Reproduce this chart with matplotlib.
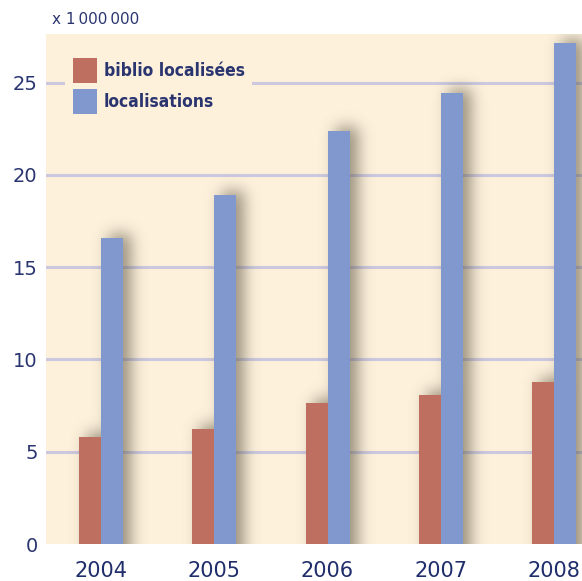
import matplotlib
matplotlib.use("Agg")
import numpy as np
import matplotlib.pyplot as plt
from matplotlib.patches import Patch

years = ["2004", "2005", "2006", "2007", "2008"]
biblio = [5.80, 6.23, 7.64, 8.07, 8.78]
localisations = [16.58, 18.90, 22.37, 24.43, 27.14]
yticks = [0, 5, 10, 15, 20, 25]
series_names = ["biblio localisées", "localisations"]

RED = "#BE6F5F"
BLUE = "#8098CE"
BG = "#FDF1DC"
GRID = "#CBC8DF"
NAVY = "#2A3570"

fig = plt.figure(figsize=(5.82, 5.81), dpi=100)
ax = fig.add_axes([46/582, 37/581, 536/582, 510/581])
ax.set_facecolor(BG)

w = 0.194
x = list(range(len(years)))
xr = [i - w/2 for i in x]
xb = [i + w/2 for i in x]
xmin, xmax = -0.486, 4.247
ymax = 27.63

# soft blurred shadow computed from the bars
nx, ny = 536, 510
pad = 40
mask = np.zeros((ny + 2 * pad, nx + 2 * pad))
dxp, dyp = 8, 4
for xs, vals in ((xr, biblio), (xb, localisations)):
    for xc, v in zip(xs, vals):
        c0 = int(round((xc - w/2 - xmin) / (xmax - xmin) * nx)) + dxp + pad
        c1 = int(round((xc + w/2 - xmin) / (xmax - xmin) * nx)) + dxp + pad
        r1 = int(round(v / ymax * ny)) + dyp + pad
        mask[0:r1, c0:c1] = 1.0
sig = 7.5
k = np.arange(-26, 27)
g = np.exp(-k**2 / (2 * sig**2)); g /= g.sum()
blur = np.apply_along_axis(lambda r: np.convolve(r, g, mode="same"), 1, mask)
blur = np.apply_along_axis(lambda c: np.convolve(c, g, mode="same"), 0, blur)
blur = blur[pad:pad + ny, pad:pad + nx]
rgba = np.zeros((ny, nx, 4))
rgba[..., 0] = 0.36; rgba[..., 1] = 0.33; rgba[..., 2] = 0.26
rgba[..., 3] = 0.62 * blur
ax.imshow(rgba, extent=(xmin, xmax, 0, ymax), origin="lower", aspect="auto",
          zorder=2, interpolation="bilinear")

ax.bar(xr, biblio, width=w, color=RED, zorder=3, label=series_names[0])
ax.bar(xb, localisations, width=w, color=BLUE, zorder=3, label=series_names[1])

for t in yticks[1:]:
    ax.axhline(t, color=GRID, lw=2.2, zorder=1)

ax.set_xlim(xmin, xmax)
ax.set_ylim(0, ymax)
ax.set_yticks(yticks)
ax.set_yticklabels([str(t) for t in yticks], fontsize=14, color=NAVY)
ax.set_xticks(x)
ax.set_xticklabels(years, fontsize=15, color="#1F2D6B")
ax.tick_params(axis="both", length=0)
ax.tick_params(axis="y", pad=6)
ax.tick_params(axis="x", pad=12)
for sp in ax.spines.values():
    sp.set_visible(False)

handles = [Patch(facecolor=RED, edgecolor="none"), Patch(facecolor=BLUE, edgecolor="none")]
leg = ax.legend(handles, series_names, loc="upper left", bbox_to_anchor=(0.02, 0.985),
                frameon=True, facecolor=BG, edgecolor="none", framealpha=1,
                handlelength=1.35, handleheight=1.8, handletextpad=0.4,
                labelspacing=0.38, borderpad=0.45,
                prop={"family": "DejaVu Sans", "weight": "bold", "size": 12.5,
                      "stretch": "condensed"})
for t in leg.get_texts():
    t.set_color(NAVY)
leg.set_zorder(5)
fig.text(52/582, 1 - 19/581, "x 1\u2009000\u2009000", fontsize=11, color=NAVY,
         va="center", ha="left")

fig.savefig("out.png", dpi=100, facecolor="white")
